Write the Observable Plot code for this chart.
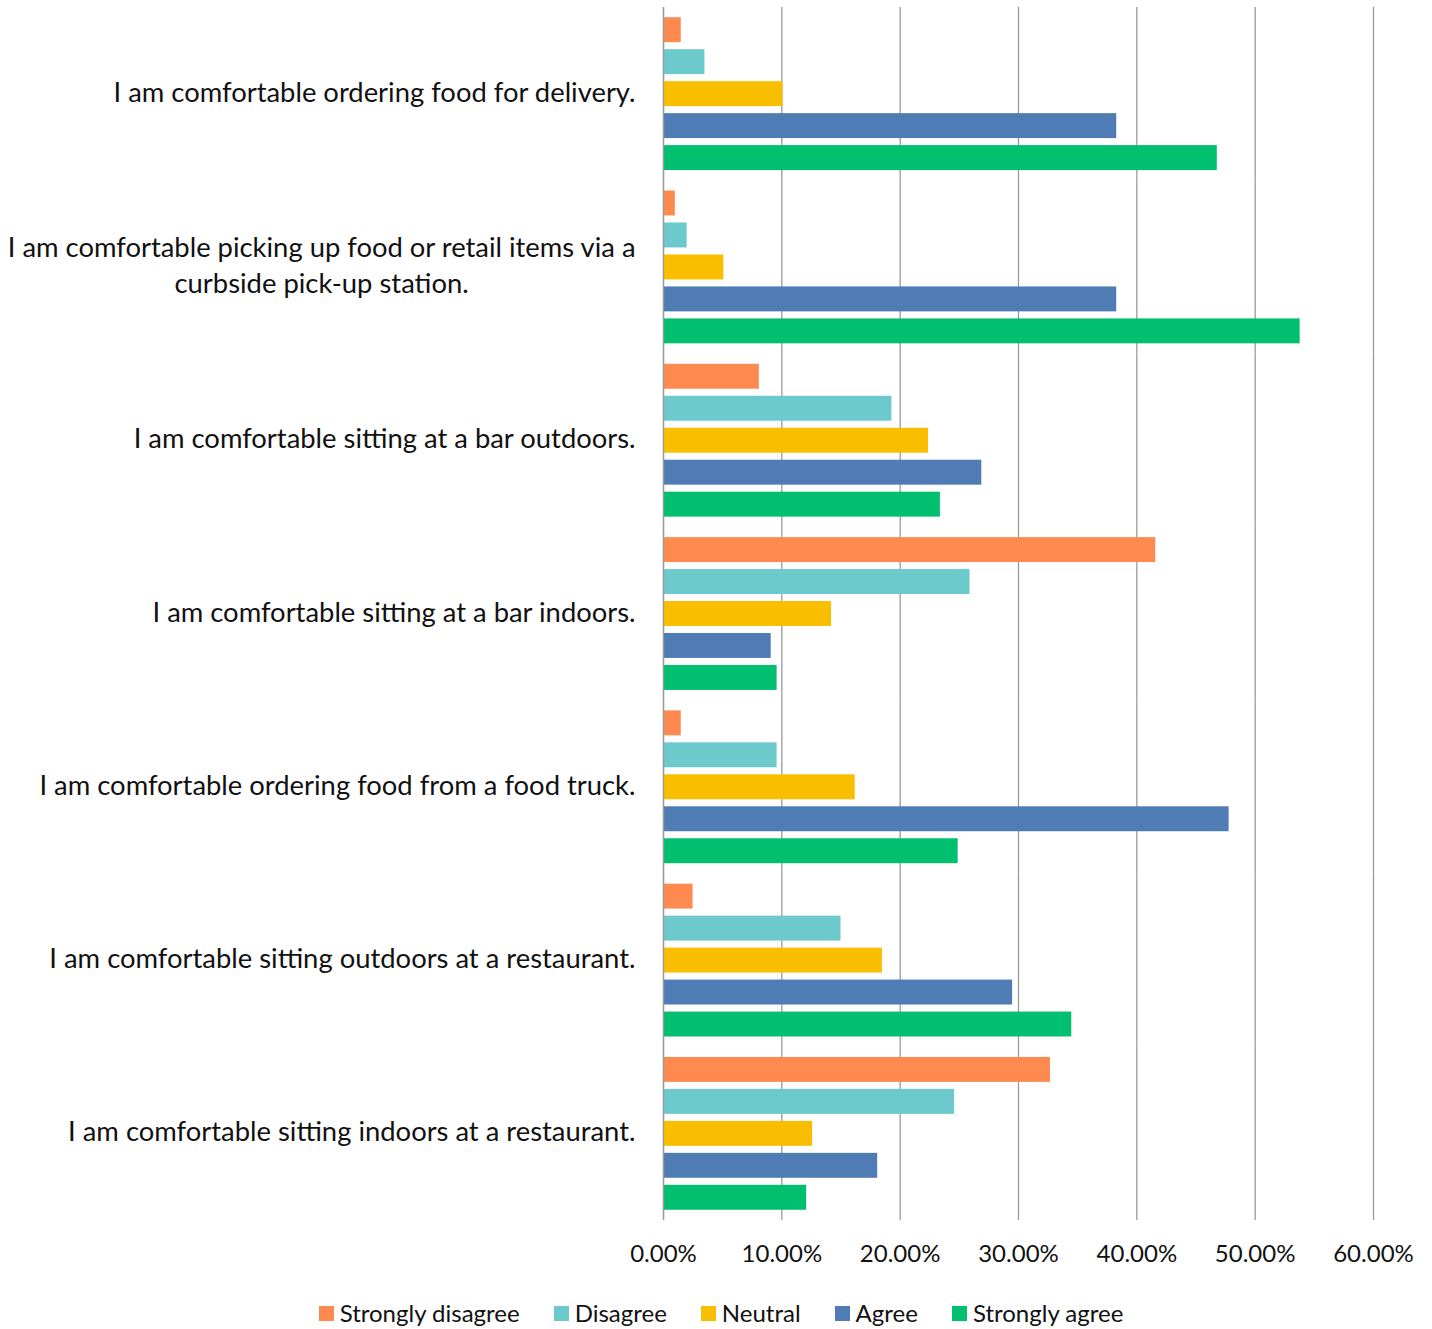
<!DOCTYPE html>
<html>
<head>
<meta charset="utf-8">
<script src="https://cdn.jsdelivr.net/npm/d3@7"></script>
<script src="https://cdn.jsdelivr.net/npm/@observablehq/plot@0.6"></script>
<style>
  body { margin: 0; background: #fff; font-family: Lato, sans-serif; }
  #legend { display: flex; justify-content: center; gap: 34px; font-size: 24px; line-height: 28px; color: #111; margin-top: 17px; padding-left: 10px; }
  #legend .item { display: flex; align-items: center; gap: 6px; }
  #legend .sw { width: 15px; height: 15px; display: inline-block; }
</style>
</head>
<body>
<div id="chart"></div>
<div id="legend"></div>
<script>
const questions = [
  "I am comfortable ordering food for delivery.",
  "I am comfortable picking up food or retail items via a\ncurbside pick-up station.",
  "I am comfortable sitting at a bar outdoors.",
  "I am comfortable sitting at a bar indoors.",
  "I am comfortable ordering food from a food truck.",
  "I am comfortable sitting outdoors at a restaurant.",
  "I am comfortable sitting indoors at a restaurant."
];
const categories = ["Strongly disagree", "Disagree", "Neutral", "Agree", "Strongly agree"];
const colors = ["#FF8A4F", "#6CC9CC", "#F9BE00", "#4F7CB5", "#00BF6F"];
const stronglyDisagree = [1.5, 1.0, 8.1, 41.6, 1.5, 2.5, 32.7];
const disagree        = [3.5, 2.0, 19.3, 25.9, 9.6, 15.0, 24.6];
const neutral         = [10.1, 5.1, 22.4, 14.2, 16.2, 18.5, 12.6];
const agree           = [38.3, 38.3, 26.9, 9.1, 47.8, 29.5, 18.1];
const stronglyAgree   = [46.8, 53.8, 23.4, 9.6, 24.9, 34.5, 12.1];
const xTicks = [0, 0.1, 0.2, 0.3, 0.4, 0.5, 0.6];

const series = [stronglyDisagree, disagree, neutral, agree, stronglyAgree];
const data = [];
questions.forEach((q, i) => {
  categories.forEach((c, j) => {
    data.push({question: q, category: c, value: series[j][i] / 100});
  });
});

const chart = Plot.plot({
  width: 1432,
  height: 1282,
  marginLeft: 663,
  marginRight: 59,
  marginTop: 7,
  marginBottom: 62,
  style: {fontFamily: "Lato, sans-serif", color: "#111", background: "#fff"},
  x: {domain: [0, 0.6], ticks: xTicks, tickFormat: d3.format(".2%")},
  y: {domain: categories, paddingInner: 0.22, paddingOuter: 0.32, round: false, axis: null},
  fy: {domain: questions, padding: 0, round: false},
  color: {domain: categories, range: colors},
  marks: [
    Plot.gridX(xTicks, {stroke: "#9a9a9a", strokeOpacity: 1, strokeWidth: 1.3}),
    Plot.barX(data, {x: "value", y: "category", fy: "question", fill: "category"}),
    Plot.axisX(xTicks, {tickSize: 0, tickPadding: 24, fontSize: 24, label: null, tickFormat: d3.format(".2%")}),
    Plot.axisFy({anchor: "left", tickSize: 0, tickPadding: 28, dy: -4, fontSize: 27.4, label: null, lineHeight: 1.31, textOverflow: null, lineWidth: Infinity}),
    Plot.ruleX([0], {stroke: "#9a9a9a", strokeWidth: 1.3})
  ]
});
document.getElementById("chart").appendChild(chart);

// center the lines of wrapped axis labels relative to each other (right-aligned block)
chart.querySelectorAll("g[aria-label='fy-axis tick label'] text").forEach(t => {
  const spans = t.querySelectorAll("tspan");
  if (spans.length > 1) {
    let w = 0;
    spans.forEach(s => { w = Math.max(w, s.getComputedTextLength()); });
    t.setAttribute("text-anchor", "middle");
    spans.forEach(s => s.setAttribute("x", -w / 2));
  }
});

const legend = document.getElementById("legend");
categories.forEach((c, j) => {
  const item = document.createElement("div");
  item.className = "item";
  const sw = document.createElement("span");
  sw.className = "sw";
  sw.style.background = colors[j];
  const lab = document.createElement("span");
  lab.textContent = c;
  item.appendChild(sw);
  item.appendChild(lab);
  legend.appendChild(item);
});
</script>
</body>
</html>
